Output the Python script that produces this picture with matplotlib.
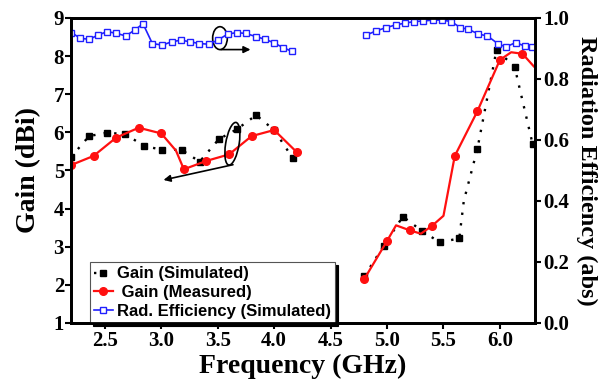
import matplotlib
matplotlib.use("Agg")
import matplotlib.pyplot as plt
from matplotlib.patches import Ellipse

plt.rcParams['font.family'] = 'Liberation Serif'
plt.rcParams['font.weight'] = 'bold'

# simulated gain (dBi), two bands
sim_x1 = [2.2, 2.36, 2.52, 2.68, 2.85, 3.01, 3.18, 3.34, 3.51, 3.67, 3.84, 4.0, 4.165]
sim_g1 = [5.35, 5.90, 5.99, 5.95, 5.64, 5.54, 5.54, 5.23, 5.82, 6.08, 6.45, 6.06, 5.32]
sim_x2 = [4.8, 4.97, 5.14, 5.31, 5.47, 5.64, 5.68, 5.80, 5.97, 6.13, 6.29]
sim_g2 = [2.23, 3.02, 3.79, 3.41, 3.11, 3.22, 4.2, 5.56, 8.16, 7.72, 5.69]
sim_mk2 = [0, 1, 2, 3, 4, 5, 7, 8, 9, 10]

# measured gain (dBi)
mea_x1 = [2.2, 2.4, 2.6, 2.8, 3.0, 3.13, 3.2, 3.4, 3.6, 3.8, 4.0, 4.2]
mea_g1 = [5.14, 5.38, 5.86, 6.12, 5.97, 5.52, 5.03, 5.25, 5.42, 5.90, 6.06, 5.48]
mea_mk1 = [0, 1, 2, 3, 4, 6, 7, 8, 9, 10, 11]
mea_x2 = [4.8, 5.0, 5.08, 5.2, 5.3, 5.4, 5.5, 5.6, 5.8, 6.0, 6.1, 6.2, 6.3]
mea_g2 = [2.16, 3.15, 3.56, 3.43, 3.34, 3.55, 3.81, 5.38, 6.55, 7.90, 8.10, 8.06, 7.73]
mea_mk2 = [0, 1, 3, 5, 7, 8, 9, 11]

# simulated radiation efficiency
eff_x1 = [2.204, 2.284, 2.364, 2.44, 2.52, 2.60, 2.684, 2.764, 2.838, 2.921,
          3.01, 3.093, 3.173, 3.254, 3.336, 3.419, 3.499, 3.588, 3.668, 3.752,
          3.835, 3.92, 3.995, 4.077, 4.161]
eff_v1 = [0.952, 0.933, 0.930, 0.944, 0.955, 0.950, 0.941, 0.960, 0.981, 0.916,
          0.911, 0.922, 0.927, 0.922, 0.916, 0.914, 0.927, 0.947, 0.952, 0.949,
          0.939, 0.930, 0.919, 0.903, 0.890]
eff_x2 = [4.817, 4.9, 4.99, 5.075, 5.16, 5.24, 5.32, 5.41, 5.49, 5.57, 5.65,
          5.72, 5.81, 5.89, 5.98, 6.05, 6.14, 6.22, 6.28]
eff_v2 = [0.944, 0.957, 0.968, 0.977, 0.983, 0.988, 0.99, 0.993, 0.993, 0.988,
          0.968, 0.963, 0.947, 0.941, 0.916, 0.905, 0.919, 0.908, 0.905]

x_ticks = [2.5, 3.0, 3.5, 4.0, 4.5, 5.0, 5.5, 6.0]
g_ticks = [1, 2, 3, 4, 5, 6, 7, 8, 9]
e_ticks = [0.0, 0.2, 0.4, 0.6, 0.8, 1.0]

fig, ax = plt.subplots(figsize=(5.99, 3.9), dpi=100)
fig.subplots_adjust(left=0.1185, right=0.893, bottom=0.172, top=0.954)
ax2 = ax.twinx()

dot = (0, (1, 3.5))
ax.plot(sim_x1, sim_g1, color='black', ls=dot, lw=1.7, marker='s', ms=4.5,
        label='Gain (Simulated)')
ax.plot(sim_x2, sim_g2, color='black', ls=dot, lw=1.7, marker='s', ms=4.5,
        markevery=sim_mk2)
ax.plot(mea_x1, mea_g1, color='#ff1010', lw=1.6, marker='o', ms=5.5,
        markevery=mea_mk1, label=' Gain (Measured)')
ax.plot(mea_x2, mea_g2, color='#ff1010', lw=1.6, marker='o', ms=5.5,
        markevery=mea_mk2)
l3, = ax2.plot(eff_x1, eff_v1, color='#2020ff', lw=1.2, marker='s', ms=4.5,
               mfc='white', mew=1.0, label='Rad. Efficiency (Simulated)')
ax2.plot(eff_x2, eff_v2, color='#2020ff', lw=1.2, marker='s', ms=4.5,
         mfc='white', mew=1.0)

# ellipses + arrows
ax.add_patch(Ellipse((3.52, 8.47), 0.13, 0.6, fill=False, ec='black', lw=1.2, zorder=5))
ax.annotate('', xy=(3.79, 8.17), xytext=(3.53, 8.17),
            arrowprops=dict(arrowstyle='-|>', color='black', lw=1.2,
                            mutation_scale=10, shrinkA=0, shrinkB=0))
ax.add_patch(Ellipse((3.63, 5.70), 0.12, 1.12, angle=-3, fill=False, ec='black',
                     lw=1.2, zorder=5))
ax.annotate('', xy=(3.02, 4.75), xytext=(3.635, 5.15),
            arrowprops=dict(arrowstyle='-|>', color='black', lw=1.2,
                            mutation_scale=10, shrinkA=0, shrinkB=0))

ax.set_xlim(2.2, 6.31)
ax.set_ylim(1, 9)
ax2.set_ylim(0, 1.0)
ax.set_xticks(x_ticks)
ax.set_xticklabels([f'{v:.1f}' for v in x_ticks])
ax.set_yticks(g_ticks)
ax2.set_yticks(e_ticks)
ax2.set_yticklabels([f'{v:.1f}' for v in e_ticks])

for a in (ax, ax2):
    for s in a.spines.values():
        s.set_linewidth(2)
    a.tick_params(direction='out', length=4, width=1.5, labelsize=15, pad=2)
ax.tick_params(axis='y', pad=1)

ax.set_xlabel('Frequency (GHz)', fontsize=20, fontweight='bold', labelpad=2)
ax.set_ylabel('Gain (dBi)', fontsize=20, fontweight='bold', labelpad=9)
ax2.set_ylabel('Radiation Efficiency (abs)', fontsize=17.5, fontweight='bold',
               rotation=270, labelpad=20)

h, lab = ax.get_legend_handles_labels()
leg = ax.legend(h + [l3], lab + [l3.get_label()], loc='lower left',
                bbox_to_anchor=(0.041, 0.0), borderaxespad=0,
                prop={'family': 'Liberation Sans', 'weight': 'bold', 'size': 12},
                frameon=True, fancybox=False, shadow={'color': 'black', 'alpha': 1},
                handlelength=1.1, handletextpad=0.25, labelspacing=0.22,
                borderpad=0.25)
leg.get_frame().set_edgecolor('#555555')
leg.get_frame().set_linewidth(0.8)

fig.savefig('out.png', dpi=100)
